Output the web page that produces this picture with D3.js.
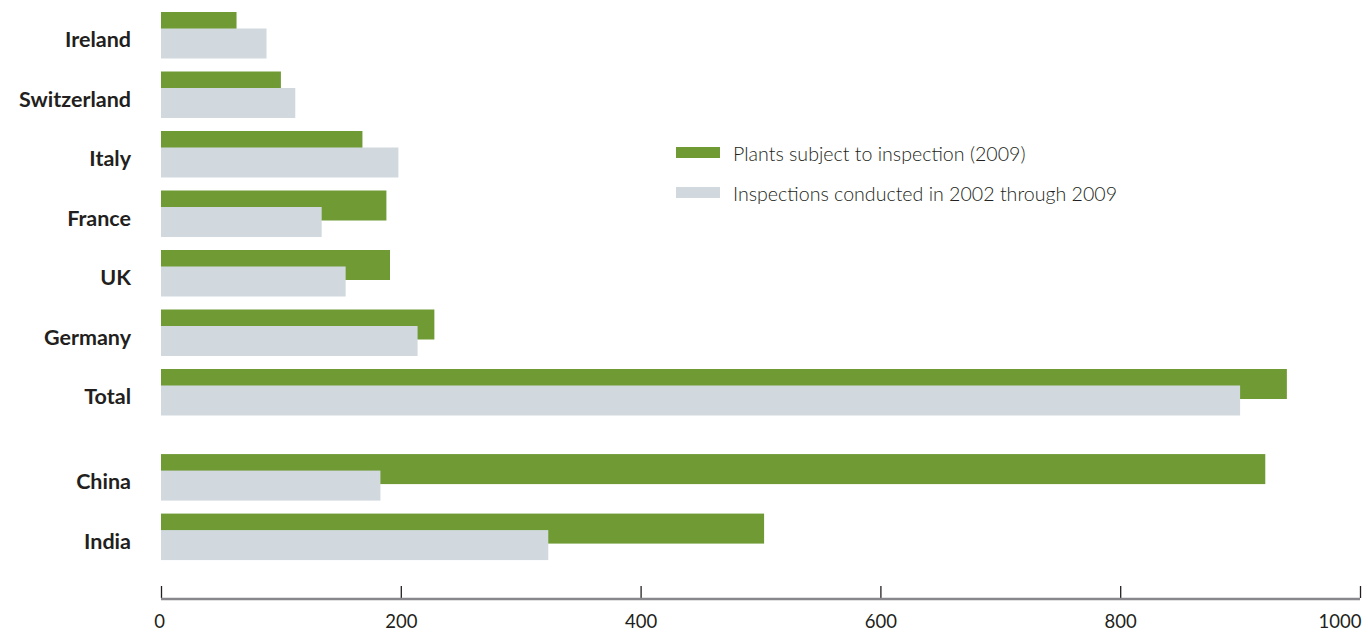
<!DOCTYPE html>
<html>
<head>
<meta charset="utf-8">
<script src="https://cdn.jsdelivr.net/npm/d3@7"></script>
<style>
  body { margin: 0; background: #fff; }
  svg { display: block; }
  .cat { font-family: Lato, "Open Sans", sans-serif; font-weight: 700; font-size: 21.5px; fill: #231f20; }
  .leg { font-family: Lato, "Open Sans", sans-serif; font-weight: 300; font-size: 19.6px; fill: #231f20; }
  .tick text { font-family: Lato, "Open Sans", sans-serif; font-weight: 400; font-size: 18.5px; fill: #231f20; }
</style>
</head>
<body>
<script>
// data
var europe = ["Ireland", "Switzerland", "Italy", "France", "UK", "Germany", "Total"];
var asia = ["China", "India"];
var plants = [63, 100, 168, 188, 191, 228, 939, 921, 503];      // Plants subject to inspection (2009)
var inspections = [88, 112, 198, 134, 154, 214, 900, 183, 323]; // Inspections conducted 2002-2009
var xTicks = [0, 200, 400, 600, 800, 1000];
var seriesNames = ["Plants subject to inspection (2009)", "Inspections conducted in 2002 through 2009"];
var seriesColors = ["#6f9a34", "#d1d9df"];

var W = 1368, H = 633;
var svg = d3.select("body").append("svg").attr("width", W).attr("height", H);

var x = d3.scaleLinear().domain([0, 1000]).range([161, 1360]);

// slot position: each row one step, with a gap between the two groups
var categories = europe.concat(asia);
var slots = categories.map(function (c, i) { return i >= europe.length ? i + 0.43 : i; });
var y = d3.scaleLinear().domain([0, 1]).range([12, 71.5]);

var barH = 30, offs = 16.5;

var rows = svg.selectAll("g.row")
  .data(categories)
  .enter().append("g")
  .attr("class", "row");

rows.append("rect")
  .attr("x", x(0))
  .attr("y", function (d, i) { return y(slots[i]); })
  .attr("width", function (d, i) { return x(plants[i]) - x(0); })
  .attr("height", barH)
  .style("fill", seriesColors[0]);

rows.append("rect")
  .attr("x", x(0))
  .attr("y", function (d, i) { return y(slots[i]) + offs; })
  .attr("width", function (d, i) { return x(inspections[i]) - x(0); })
  .attr("height", barH)
  .style("fill", seriesColors[1]);

rows.append("text")
  .attr("class", "cat")
  .attr("x", 131)
  .attr("y", function (d, i) { return y(slots[i]) + 35; })
  .attr("text-anchor", "end")
  .text(function (d) { return d; });

// x axis: ticks pointing up, grey base line
var axis = svg.append("g")
  .attr("transform", "translate(0,599)")
  .call(d3.axisBottom(x).tickValues(xTicks).tickFormat(d3.format("d")).tickSize(0).tickPadding(0));

axis.select(".domain").remove();
axis.append("line")
  .attr("x1", x(0)).attr("x2", x(1000))
  .attr("stroke", "#88888c").attr("stroke-width", 2.5);
axis.selectAll(".tick line")
  .attr("y1", -1).attr("y2", -13)
  .attr("stroke", "#231f20").attr("stroke-width", 1.3);
axis.selectAll(".tick text")
  .attr("y", 29).attr("dy", 0)
  .attr("text-anchor", function (d) { return d === 1000 ? "end" : "middle"; })
  .attr("x", function (d) { return d === 1000 ? 1 : (d === 0 ? -2 : 0); });

// legend
var leg = svg.selectAll("g.leg")
  .data(seriesNames)
  .enter().append("g")
  .attr("transform", function (d, i) { return "translate(676," + (147 + i * 40) + ")"; });

leg.append("rect")
  .attr("width", 44).attr("height", 11)
  .style("fill", function (d, i) { return seriesColors[i]; });

leg.append("text")
  .attr("class", "leg")
  .attr("x", 57).attr("y", 13.5)
  .text(function (d) { return d; });
</script>
</body>
</html>
